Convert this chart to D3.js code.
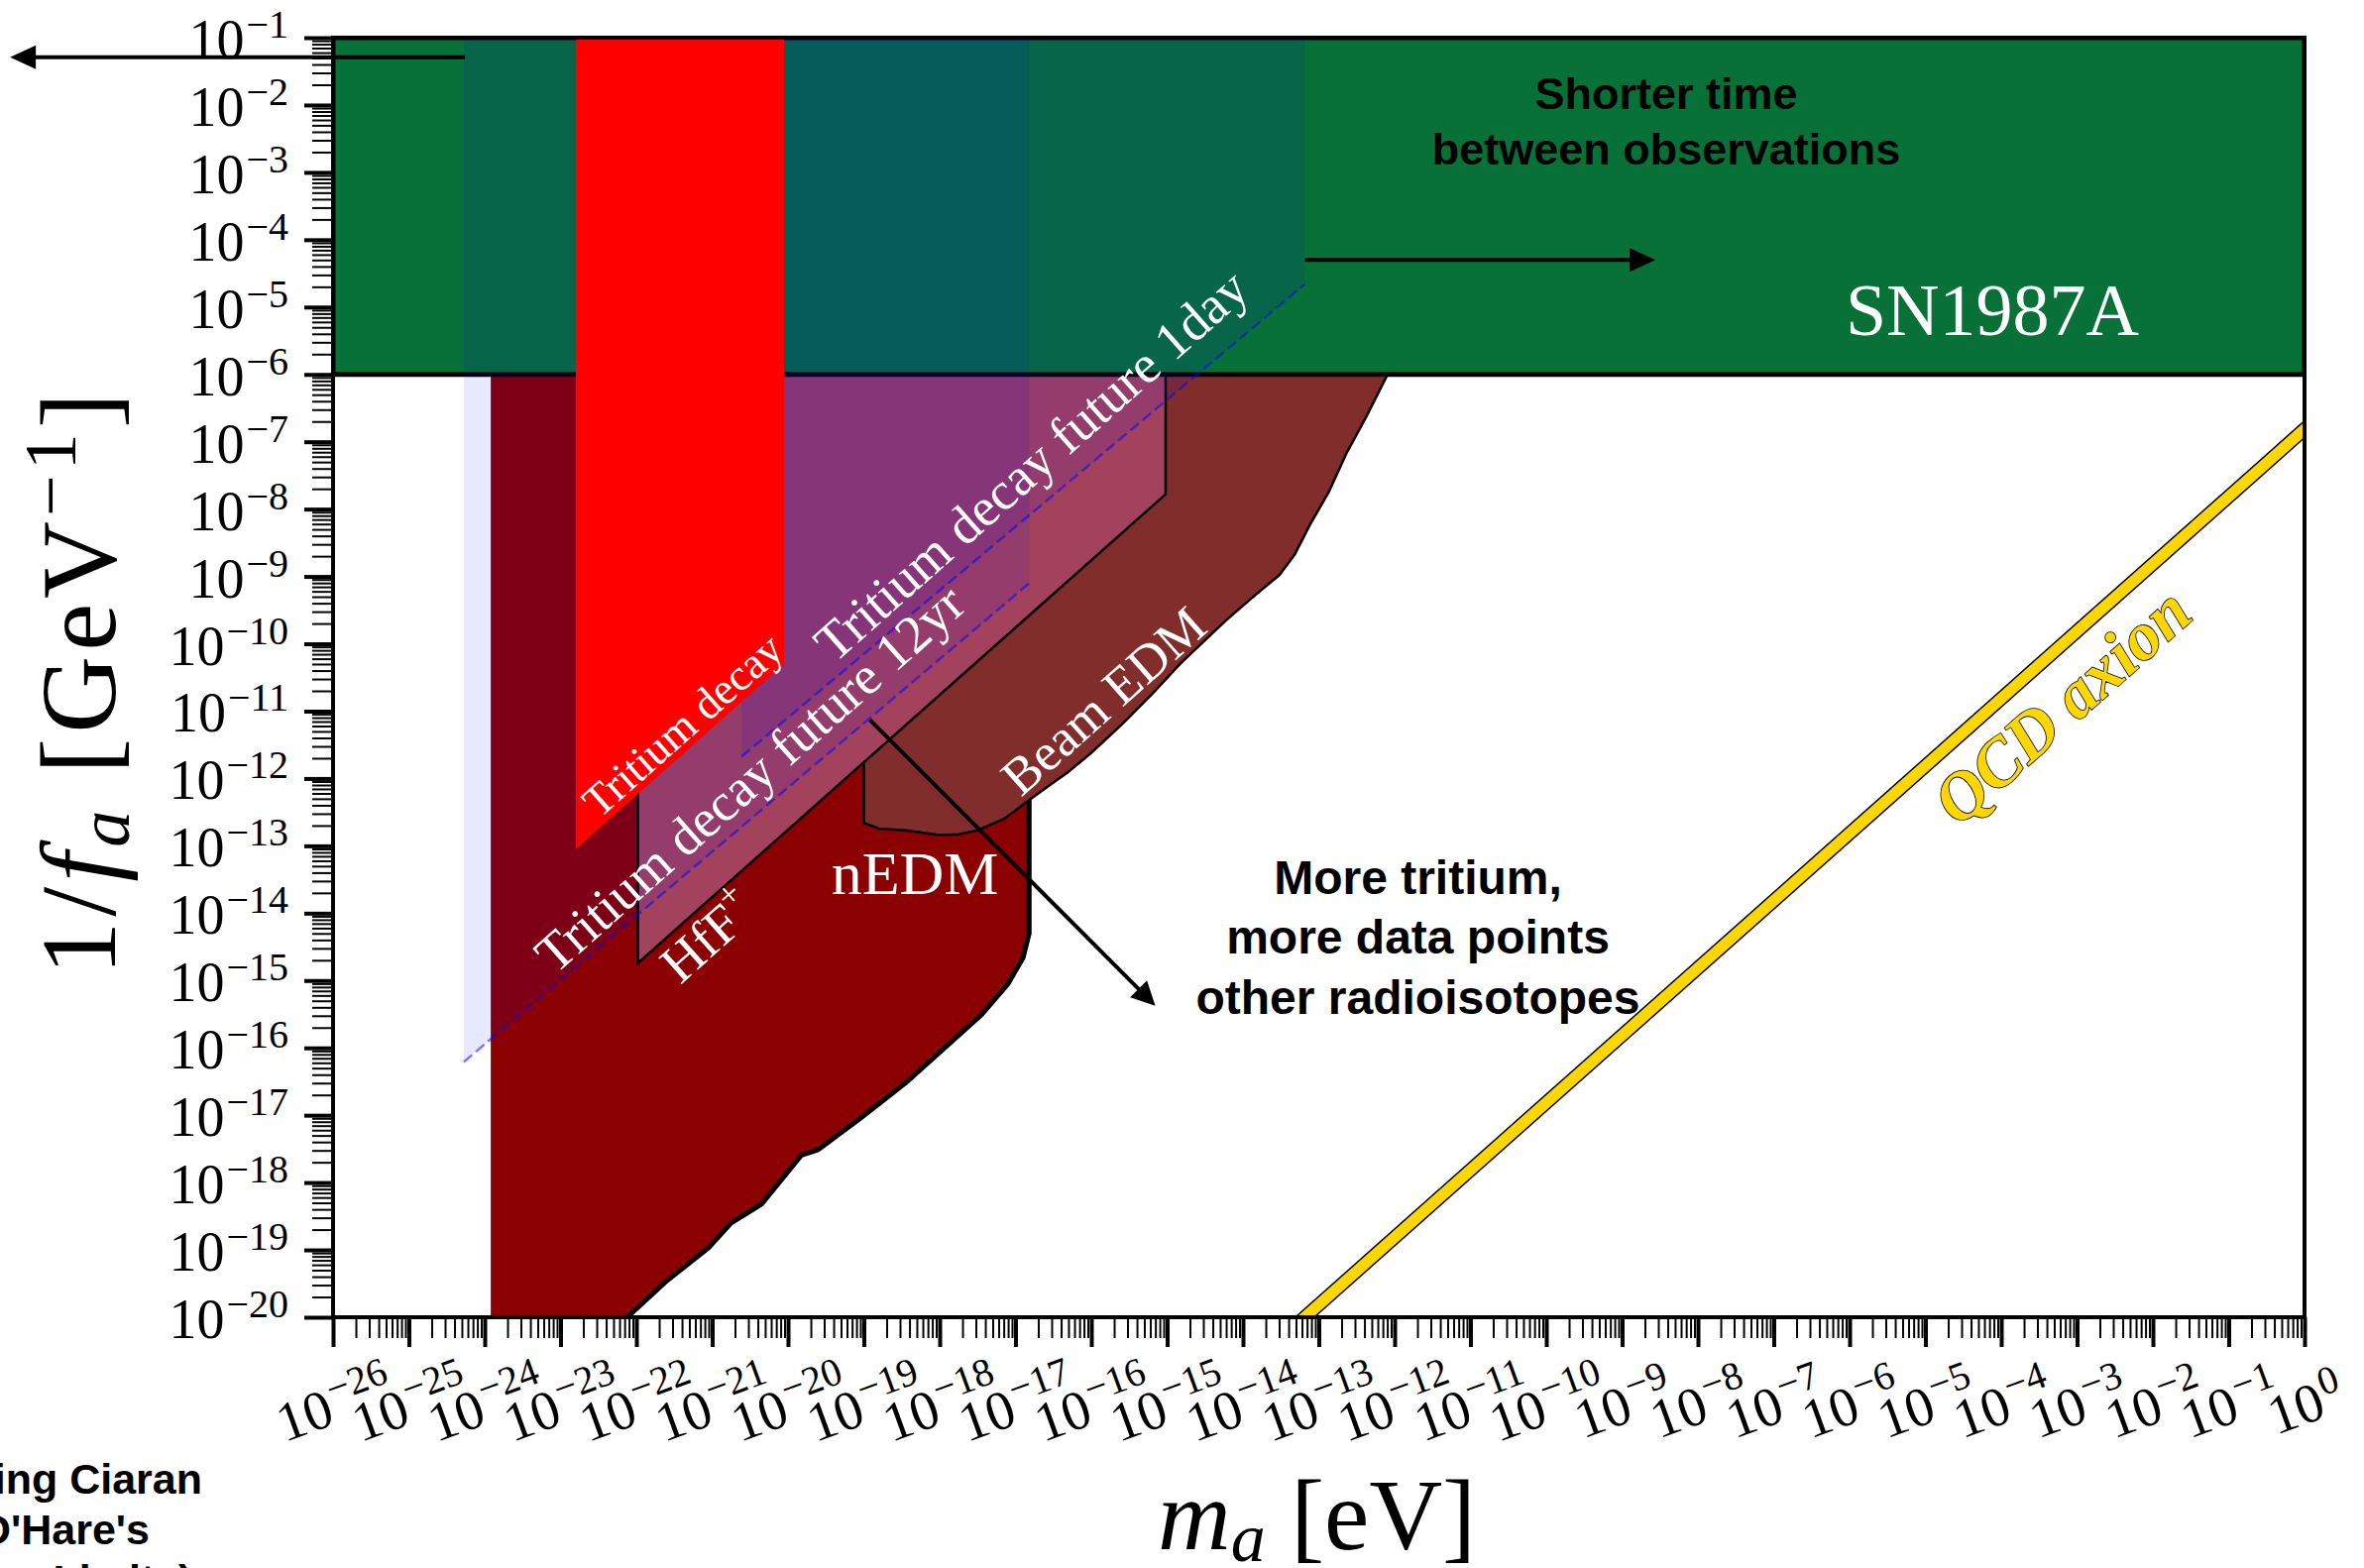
<!DOCTYPE html>
<html>
<head>
<meta charset="utf-8">
<script src="https://cdn.jsdelivr.net/npm/d3@7"></script>
<style>
  html, body { margin: 0; padding: 0; background: #fff; }
  svg { display: block; }
</style>
</head>
<body>
<script>
// All coordinates are log10 values: x = log10(m_a / eV), y = log10(1/f_a · GeV).

const xTickExponents = [-26,-25,-24,-23,-22,-21,-20,-19,-18,-17,-16,-15,-14,-13,-12,-11,-10,-9,-8,-7,-6,-5,-4,-3,-2,-1,0];
const yTickExponents = [-20,-19,-18,-17,-16,-15,-14,-13,-12,-11,-10,-9,-8,-7,-6,-5,-4,-3,-2,-1];

// SN1987A cooling bound
const sn1987a = [[-26,-1],[-26,-6],[0,-6],[0,-1]];

// nEDM exclusion: left edge and lower/right boundary
const nedmLeft = -23.92;
const nedmEdge = [[-22.12,-20.0],[-21.62,-19.48],[-21.05,-18.97],[-20.75,-18.60],[-20.35,-18.32],
                  [-19.82,-17.59],[-19.60,-17.51],[-19.05,-17.05],[-18.45,-16.52],[-17.45,-15.51],
                  [-17.10,-15.05],[-16.90,-14.66],[-16.82,-14.30],[-16.82,-12.32]];

// Beam EDM exclusion (left edge, lower bump, right boundary up to SN1987A)
const beamEdm = [[-19.00,-6.00],[-19.00,-12.66],[-18.80,-12.745],[-18.45,-12.77],[-18.00,-12.84],
                 [-17.75,-12.83],[-17.50,-12.77],[-17.15,-12.60],[-16.82,-12.32],[-16.55,-12.10],
                 [-16.30,-11.90],[-16.01,-11.63],[-15.60,-11.20],[-15.20,-10.75],[-14.83,-10.30],
                 [-14.23,-9.66],[-13.83,-9.27],[-13.52,-8.98],[-13.32,-8.68],[-13.12,-8.24],
                 [-12.87,-7.75],[-12.63,-7.16],[-12.37,-6.62],[-12.12,-6.06],[-12.09,-6.00]];

// HfF+ exclusion
const hff = [[-21.98,-6.00],[-21.98,-14.74],[-15.02,-7.78],[-15.02,-6.00]];

// Tritium decay: current bound
const tritiumNow = [[-22.80,-1],[-22.80,-13.05],[-20.05,-10.30],[-20.05,-1]];

// Tritium decay projections
const future12yr = [[-24.276,-1],[-24.276,-16.21],[-16.817,-9.10],[-16.817,-1]];
const future1day = [[-20.612,-1],[-20.612,-11.674],[-13.184,-4.66],[-13.184,-1]];
const future12yrEdge = [[-24.276,-16.21],[-16.817,-9.10]];
const future1dayEdge = [[-20.612,-11.674],[-13.184,-4.66]];

// QCD axion band
const qcdUpper = [[-13.31,-20],[0,-6.69]];
const qcdLower = [[-13.06,-20],[0,-6.94]];

// Arrows: [start, tip]
const arrowPast   = [[-24.26,-1.29],[-30.26,-1.29]];
const arrowRate   = [[-13.18,-4.30],[-8.56,-4.30]];
const arrowReach  = [[-18.92,-11.13],[-15.156,-15.375]];

// ---------------------------------------------------------------
const W = 2385, H = 1582;
const L = 336, R = 2325, T = 38, B = 1329;

const svg = d3.select("body").append("svg")
  .attr("width", W).attr("height", H)
  .attr("viewBox", `0 0 ${W} ${H}`);

const x = d3.scaleLog().domain([1e-26, 1]).range([L, R]);
const y = d3.scaleLog().domain([1e-20, 1e-1]).range([B, T]);
const X = v => x(Math.pow(10, v));
const Y = v => y(Math.pow(10, v));
const line = d3.line().x(d => X(d[0])).y(d => Y(d[1]));
const area = pts => line(pts) + "Z";

const defs = svg.append("defs");
defs.append("clipPath").attr("id", "plotclip")
  .append("rect").attr("x", L).attr("y", T).attr("width", R - L).attr("height", B - T);

const serif = "'Liberation Serif', 'Times New Roman', serif";
const sans = "'Liberation Sans', Arial, Helvetica, sans-serif";

const plot = svg.append("g").attr("clip-path", "url(#plotclip)");

// nEDM
const nedmPoly = [[nedmLeft,-20],[nedmLeft,-1],[-16.82,-1]].concat(nedmEdge.slice().reverse());
plot.append("path").attr("d", area(nedmPoly)).attr("fill", "#8b0000");

// Beam EDM
plot.append("path").attr("d", area(beamEdm))
  .attr("fill", "#812d2c").attr("stroke", "#000").attr("stroke-width", 2.5).attr("stroke-linejoin", "round");

// nEDM boundary line
plot.append("path").attr("d", line(nedmEdge))
  .attr("fill", "none").attr("stroke", "#000").attr("stroke-width", 5).attr("stroke-linejoin", "round");

// HfF+
plot.append("path").attr("d", area(hff)).attr("fill", "#a3425d");
plot.append("path").attr("d", line(hff))
  .attr("fill", "none").attr("stroke", "#000").attr("stroke-width", 2.5);

// QCD axion band
const qcdPoly = qcdUpper.concat(qcdLower.slice().reverse());
plot.append("path").attr("d", area(qcdPoly))
  .attr("fill", "#ffd700").attr("stroke", "#000").attr("stroke-width", 1.5);

// SN1987A
plot.append("path").attr("d", area(sn1987a))
  .attr("fill", "rgb(8,113,55)").attr("stroke", "#000").attr("stroke-width", 5);

// Tritium decay projections (translucent)
[future12yr, future1day].forEach(p => {
  plot.append("path").attr("d", area(p)).attr("fill", "rgba(0,0,255,0.09)");
});
[future12yrEdge, future1dayEdge].forEach(p => {
  plot.append("path").attr("d", line(p))
    .attr("fill", "none").attr("stroke", "rgba(0,0,255,0.5)")
    .attr("stroke-width", 2.5).attr("stroke-dasharray", "11,5");
});

// Tritium decay current bound
plot.append("path").attr("d", area(tritiumNow)).attr("fill", "#ff0000");

// Arrows
function arrow(a, head = 26, half = 12) {
  const x0 = X(a[0][0]), y0 = Y(a[0][1]), x1 = X(a[1][0]), y1 = Y(a[1][1]);
  const len = Math.hypot(x1 - x0, y1 - y0);
  const ux = (x1 - x0) / len, uy = (y1 - y0) / len;
  const bx = x1 - ux * head, by = y1 - uy * head;
  svg.append("line").attr("x1", x0).attr("y1", y0).attr("x2", bx + ux * 2).attr("y2", by + uy * 2)
    .attr("stroke", "#000").attr("stroke-width", 4);
  svg.append("path")
    .attr("d", `M${x1},${y1}L${bx - uy * half},${by + ux * half}L${bx + uy * half},${by - ux * half}Z`)
    .attr("fill", "#000");
}
arrow(arrowPast);
arrow(arrowRate);
arrow(arrowReach, 24, 12);

// Labels along slope-one lines
const ang = Math.atan2(Y(-10) - Y(-9), X(-9) - X(-10)) * 180 / Math.PI;

function slanted(txt, lx, ly, size, fill) {
  return svg.append("text")
    .attr("transform", `translate(${X(lx)},${Y(ly)}) rotate(${-ang})`)
    .attr("text-anchor", "middle").attr("dy", "0.33em")
    .attr("font-family", serif).attr("font-size", size).attr("fill", fill)
    .text(txt);
}
slanted("Tritium decay", -21.388, -11.209, 45, "#fff");
slanted("Tritium decay future 12yr", -20.503, -12.003, 54, "#fff");
slanted("Tritium decay future 1day", -16.791, -7.353, 54, "#fff");
slanted("Beam EDM", -15.837, -10.851, 53, "#fff");
const hffLabel = slanted("HfF", -21.05, -14.348, 54, "#fff");
hffLabel.append("tspan").attr("font-size", 36).attr("dy", -24).text("+");
slanted("QCD axion", -3.196, -10.926, 68, "#ffd700")
  .attr("font-style", "italic").attr("font-weight", "bold")
  .attr("stroke", "#000").attr("stroke-width", 1.6).attr("paint-order", "stroke");

svg.append("text").attr("x", X(-18.326)).attr("y", Y(-13.719))
  .attr("text-anchor", "middle").attr("font-family", serif).attr("font-size", 62)
  .attr("fill", "#fff").text("nEDM");
svg.append("text").attr("x", X(-4.118)).attr("y", Y(-5.419))
  .attr("text-anchor", "middle").attr("font-family", serif).attr("font-size", 74)
  .attr("fill", "#fff").text("SN1987A");

function block(lines, lx, ys, size) {
  lines.forEach((t, i) => {
    svg.append("text").attr("x", X(lx)).attr("y", Y(ys[i]))
      .attr("text-anchor", "middle").attr("font-family", sans).attr("font-weight", "bold")
      .attr("font-size", size).attr("fill", "#000").text(t);
  });
}
block(["Shorter time", "between observations"], -8.418, [-2.0596, -2.884], 45);
block(["More tritium,", "more data points", "other radioisotopes"], -11.693, [-13.715, -14.605, -15.493], 48);

// Credit note in the lower left corner (centred block, first line ends at x = 204)
const credit = ["(Using Ciaran", "O'Hare's", "AxionLimits)"].map((t, i) =>
  svg.append("text").attr("y", 1507 + i * 51)
    .attr("text-anchor", "middle").attr("font-family", sans).attr("font-weight", "bold")
    .attr("font-size", 43).attr("fill", "#000").text(t));
const creditCx = 204 - credit[0].node().getComputedTextLength() / 2;
credit.forEach(t => t.attr("x", creditCx));

// ---------------- axes ----------------
const xMinor = [], yMinor = [];
xTickExponents.slice(0, -1).forEach(e => { for (let k = 2; k <= 9; k++) xMinor.push(k * Math.pow(10, e)); });
yTickExponents.slice(0, -1).forEach(e => { for (let k = 2; k <= 9; k++) yMinor.push(k * Math.pow(10, e)); });

function styleAxis(g, w) {
  g.select(".domain").remove();
  g.selectAll(".tick line").attr("stroke", "#000").attr("stroke-width", w);
  g.selectAll(".tick text").remove();
}
svg.append("g").attr("transform", `translate(0,${B})`)
  .call(d3.axisBottom(x).tickValues(xMinor).tickSize(21).tickFormat(""))
  .call(g => styleAxis(g, 2));
svg.append("g").attr("transform", `translate(0,${B})`)
  .call(d3.axisBottom(x).tickValues(xTickExponents.map(e => Math.pow(10, e))).tickSize(30).tickFormat(""))
  .call(g => styleAxis(g, 4));
svg.append("g").attr("transform", `translate(${L},0)`)
  .call(d3.axisLeft(y).tickValues(yMinor).tickSize(21).tickFormat(""))
  .call(g => styleAxis(g, 2));
svg.append("g").attr("transform", `translate(${L},0)`)
  .call(d3.axisLeft(y).tickValues(yTickExponents.map(e => Math.pow(10, e))).tickSize(29).tickFormat(""))
  .call(g => styleAxis(g, 4));

function powerLabel(t, e) {
  t.append("tspan").text("10");
  t.append("tspan").attr("font-size", 40).attr("dy", -21).attr("dx", 2)
    .text(e < 0 ? "\u2212" + (-e) : String(e));
}
yTickExponents.forEach(e => {
  const t = svg.append("text").attr("x", 291).attr("y", Y(e) + 21)
    .attr("text-anchor", "end").attr("font-family", serif).attr("font-size", 56).attr("fill", "#000");
  powerLabel(t, e);
});
xTickExponents.forEach(e => {
  const t = svg.append("text")
    .attr("transform", `translate(${X(e)},1413) rotate(-20)`)
    .attr("y", 23).attr("text-anchor", "middle")
    .attr("font-family", serif).attr("font-size", 56).attr("fill", "#000");
  powerLabel(t, e);
});

// Spines
svg.append("rect").attr("x", L).attr("y", T).attr("width", R - L).attr("height", B - T)
  .attr("fill", "none").attr("stroke", "#000").attr("stroke-width", 4);

// Axis titles
const xt = svg.append("text").attr("x", (L + R) / 2 - 2).attr("y", 1563)
  .attr("text-anchor", "middle").attr("font-family", serif).attr("font-size", 102).attr("fill", "#000");
xt.append("tspan").attr("font-style", "italic").text("m");
xt.append("tspan").attr("font-style", "italic").attr("font-size", 70).attr("dy", 12).text("a");
xt.append("tspan").attr("dy", -12).text(" [eV]");

const yt = svg.append("text").attr("transform", `translate(116,${(T + B) / 2 + 4}) rotate(-90)`)
  .attr("text-anchor", "middle").attr("font-family", serif).attr("font-size", 108)
  .attr("letter-spacing", 5).attr("fill", "#000");
yt.append("tspan").text("1/");
yt.append("tspan").attr("font-style", "italic").text("f");
yt.append("tspan").attr("font-style", "italic").attr("font-size", 74).attr("dy", 14).text("a");
yt.append("tspan").attr("dy", -14).text(" [GeV");
yt.append("tspan").attr("font-size", 74).attr("dy", -40).text("\u22121");
yt.append("tspan").attr("dy", 40).text("]");
</script>
</body>
</html>
